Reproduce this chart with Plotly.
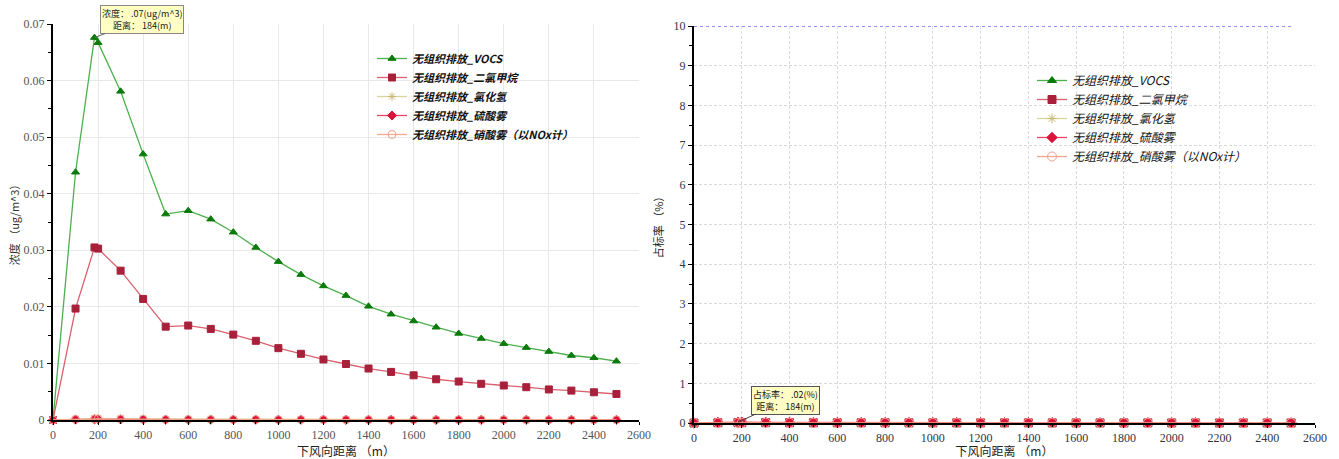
import plotly.graph_objects as go

# ---------------- data ----------------
distance = [0, 100, 184, 200, 300, 400, 500, 600, 700, 800, 900, 1000, 1100, 1200,
            1300, 1400, 1500, 1600, 1700, 1800, 1900, 2000, 2100, 2200, 2300, 2400, 2500]

series_names = ["无组织排放_VOCS", "无组织排放_二氯甲烷", "无组织排放_氯化氢",
                "无组织排放_硫酸雾", "无组织排放_硝酸雾（以NOx计）"]

# concentration (ug/m^3)
conc_vocs = [0, 0.0438, 0.0676, 0.0667, 0.0581, 0.0470, 0.0364, 0.0370, 0.0355, 0.0332,
             0.0305, 0.0280, 0.0257, 0.0237, 0.0220, 0.0201, 0.0187, 0.0175, 0.0164, 0.0153,
             0.0144, 0.0135, 0.0128, 0.0121, 0.0114, 0.0110, 0.0104]
conc_dcm = [0, 0.0197, 0.0305, 0.0303, 0.0264, 0.0214, 0.0165, 0.0167, 0.0161, 0.0151,
            0.0140, 0.0127, 0.0117, 0.0107, 0.0099, 0.0091, 0.0085, 0.0079, 0.0072, 0.0068,
            0.0064, 0.0061, 0.0058, 0.0054, 0.0052, 0.0049, 0.0046]
conc_hcl = [0, 0.00020, 0.00031, 0.00030, 0.00026, 0.00021, 0.00016, 0.00017, 0.00016, 0.00015,
            0.00014, 0.00013, 0.00012, 0.00011, 0.00010, 0.00009, 0.00008, 0.00008, 0.00007, 0.00007,
            0.00006, 0.00006, 0.00006, 0.00005, 0.00005, 0.00005, 0.00005]
conc_h2so4 = [0, 0.00007, 0.00010, 0.00010, 0.00009, 0.00007, 0.00005, 0.00006, 0.00005, 0.00005,
              0.00005, 0.00004, 0.00004, 0.00004, 0.00003, 0.00003, 0.00003, 0.00003, 0.00002, 0.00002,
              0.00002, 0.00002, 0.00002, 0.00002, 0.00002, 0.00002, 0.00002]
conc_hno3 = [0, 0.00012, 0.00018, 0.00018, 0.00016, 0.00013, 0.00010, 0.00010, 0.00009, 0.00009,
             0.00008, 0.00007, 0.00007, 0.00006, 0.00006, 0.00005, 0.00005, 0.00005, 0.00004, 0.00004,
             0.00004, 0.00004, 0.00003, 0.00003, 0.00003, 0.00003, 0.00003]

# percentage of standard (%)
pct_vocs = [0, 0.0036, 0.0056, 0.0056, 0.0048, 0.0039, 0.0030, 0.0031, 0.0030, 0.0028,
            0.0025, 0.0023, 0.0021, 0.0020, 0.0018, 0.0017, 0.0016, 0.0015, 0.0014, 0.0013,
            0.0012, 0.0011, 0.0011, 0.0010, 0.0010, 0.0009, 0.0009]
pct_dcm = [0, 0.0060, 0.0090, 0.0090, 0.0080, 0.0064, 0.0050, 0.0050, 0.0048, 0.0045,
           0.0042, 0.0038, 0.0035, 0.0032, 0.0030, 0.0027, 0.0025, 0.0024, 0.0022, 0.0020,
           0.0019, 0.0018, 0.0017, 0.0016, 0.0016, 0.0015, 0.0014]
pct_hcl = [0, 0.0040, 0.0062, 0.0060, 0.0052, 0.0042, 0.0032, 0.0034, 0.0032, 0.0030,
           0.0028, 0.0026, 0.0024, 0.0022, 0.0020, 0.0018, 0.0016, 0.0016, 0.0014, 0.0014,
           0.0012, 0.0012, 0.0012, 0.0010, 0.0010, 0.0010, 0.0010]
pct_h2so4 = [0, 0.013, 0.020, 0.020, 0.017, 0.014, 0.011, 0.011, 0.010, 0.010,
             0.009, 0.008, 0.008, 0.007, 0.007, 0.006, 0.006, 0.005, 0.005, 0.005,
             0.004, 0.004, 0.004, 0.004, 0.004, 0.003, 0.003]
pct_hno3 = [0, 0.0050, 0.0075, 0.0075, 0.0065, 0.0052, 0.0040, 0.0040, 0.0038, 0.0036,
            0.0032, 0.0030, 0.0028, 0.0026, 0.0024, 0.0022, 0.0020, 0.0019, 0.0018, 0.0017,
            0.0016, 0.0015, 0.0014, 0.0013, 0.0013, 0.0012, 0.0012]

limit_x = [0, 2500]
limit_y = [10, 10]

x_ticks = [0, 200, 400, 600, 800, 1000, 1200, 1400, 1600, 1800, 2000, 2200, 2400, 2600]

# ---------------- styles ----------------
styles = [
    dict(line="#4cb04c", marker="#0a7a0a", symbol="triangle-up", size=7),
    dict(line="#d9606e", marker="#a8203a", symbol="square", size=7),
    dict(line="#d8d49a", marker="#c8b870", symbol="asterisk", size=7),
    dict(line="#ee4466", marker="#dc143c", symbol="diamond", size=7),
    dict(line="#f0a890", marker="#f0a090", symbol="circle-open", size=8),
]

left_vals = [conc_vocs, conc_dcm, conc_hcl, conc_h2so4, conc_hno3]
right_vals = [pct_vocs, pct_dcm, pct_hcl, pct_h2so4, pct_hno3]

fig = go.Figure()

for name, vals, st in zip(series_names, left_vals, styles):
    fig.add_trace(go.Scatter(
        x=distance, y=vals, name=name, mode="lines+markers",
        line=dict(color=st["line"], width=1.3),
        marker=dict(symbol=st["symbol"], size=st["size"], color=st["marker"],
                    line=dict(color=st["marker"], width=1)),
        xaxis="x", yaxis="y", legend="legend", cliponaxis=False))

fig.add_trace(go.Scatter(
    x=limit_x, y=limit_y, mode="lines", showlegend=False,
    line=dict(color="#2020ff", width=1.2, dash="dot"),
    xaxis="x2", yaxis="y2", cliponaxis=False))

for name, vals, st in zip(series_names, right_vals, styles):
    fig.add_trace(go.Scatter(
        x=distance, y=vals, name=name, mode="lines+markers",
        line=dict(color=st["line"], width=1.3),
        marker=dict(symbol=st["symbol"], size=st["size"] + 1, color=st["marker"],
                    line=dict(color=st["marker"], width=1)),
        xaxis="x2", yaxis="y2", legend="legend2", cliponaxis=False))

W, H = 1339, 459
tickfont = dict(family="Liberation Serif, DejaVu Serif, serif", size=12, color="#555555")
tickfont2 = dict(family="Liberation Serif, DejaVu Serif, serif", size=12, color="#333344")
titlefont = dict(family="Noto Sans CJK SC", size=12, color="#222222")

common_x = dict(range=[0, 2600], tickvals=x_ticks, showline=True, linecolor="black",
                linewidth=2, ticks="outside", ticklen=3, tickcolor="black",
                zeroline=False, automargin=False,
                minor=dict(dtick=100, ticklen=2, ticks="outside",
                           tickcolor="black", showgrid=False))

fig.update_layout(
    width=W, height=H,
    margin=dict(l=0, r=0, t=0, b=0, autoexpand=False),
    paper_bgcolor="white", plot_bgcolor="white",
    showlegend=True,
    xaxis=dict(domain=[53 / W, 639 / W], anchor="y", tickfont=tickfont,
               showgrid=True, gridcolor="#e8e8e8", gridwidth=1,
               title=dict(text="下风向距离 （m）", font=titlefont, standoff=0),
               **common_x),
    yaxis=dict(domain=[1 - 420 / H, 1 - 24 / H], anchor="x", range=[0, 0.07], dtick=0.01,
               showline=True, linecolor="black", linewidth=2, ticks="outside", ticklen=4,
               tickcolor="black", zeroline=False, tickfont=tickfont, automargin=False,
               showgrid=True, gridcolor="#e8e8e8", gridwidth=1,
               minor=dict(dtick=0.005, ticklen=3, ticks="outside", tickcolor="black", showgrid=False),
               title=dict(text="浓度 （ug/m^3）", font=dict(family="Noto Sans CJK SC", size=11, color="#333333"), standoff=2)),
    xaxis2=dict(domain=[694 / W, 1315 / W], anchor="y2", tickfont=tickfont2,
                showgrid=True, gridcolor="#dadada", gridwidth=1, griddash="3px,2px",
                title=dict(text="下风向距离 （m）", font=titlefont, standoff=4),
                **common_x),
    yaxis2=dict(domain=[1 - 423 / H, 1 - 26 / H], anchor="x2", range=[0, 10], dtick=1,
                showline=True, linecolor="black", linewidth=2, ticks="outside", ticklen=4,
                tickcolor="black", zeroline=False, tickfont=tickfont2, automargin=False,
                showgrid=True, gridcolor="#dadada", gridwidth=1, griddash="3px,2px",
                minor=dict(dtick=0.5, ticklen=3, ticks="outside", tickcolor="black", showgrid=False),
                title=dict(text="占标率 （%）", font=dict(family="Noto Sans CJK SC", size=11, color="#222222"), standoff=8)),
    legend=dict(x=372 / W, y=1 - 44 / H, xanchor="left", yanchor="top",
                bgcolor="rgba(255,255,255,0)", borderwidth=0, tracegroupgap=0,
                font=dict(family="Noto Sans CJK SC", size=11, color="#111111", style="italic", weight="bold")),
    legend2=dict(x=1032 / W, y=1 - 66 / H, xanchor="left", yanchor="top",
                 bgcolor="rgba(255,255,255,0)", borderwidth=0, tracegroupgap=0,
                 font=dict(family="Noto Sans CJK SC", size=12, color="#111111", style="italic")),
    annotations=[
        dict(x=184, y=0.0676, xref="x", yref="y", text="浓度： .07(ug/m^3)<br>距离： 184(m)",
             showarrow=True, arrowhead=0, arrowwidth=1, arrowcolor="#666666", ax=48, ay=-18,
             bgcolor="#ffffc4", bordercolor="#888888", borderwidth=1, borderpad=1,
             font=dict(family="Noto Sans CJK SC", size=9, color="#222222"), align="center"),
        dict(x=184, y=0.02, xref="x2", yref="y2", text="占标率： .02(%)<br>距离： 184(m)",
             showarrow=True, arrowhead=0, arrowwidth=1, arrowcolor="#444444", ax=48, ay=-22,
             bgcolor="#ffffc4", bordercolor="#555555", borderwidth=1, borderpad=1,
             font=dict(family="Noto Sans CJK SC", size=9, color="#111111"), align="center"),
    ],
)

fig.write_html("out.html", config={"displayModeBar": False},
               post_script="document.body.style.margin='0';document.body.style.overflow='hidden';")
